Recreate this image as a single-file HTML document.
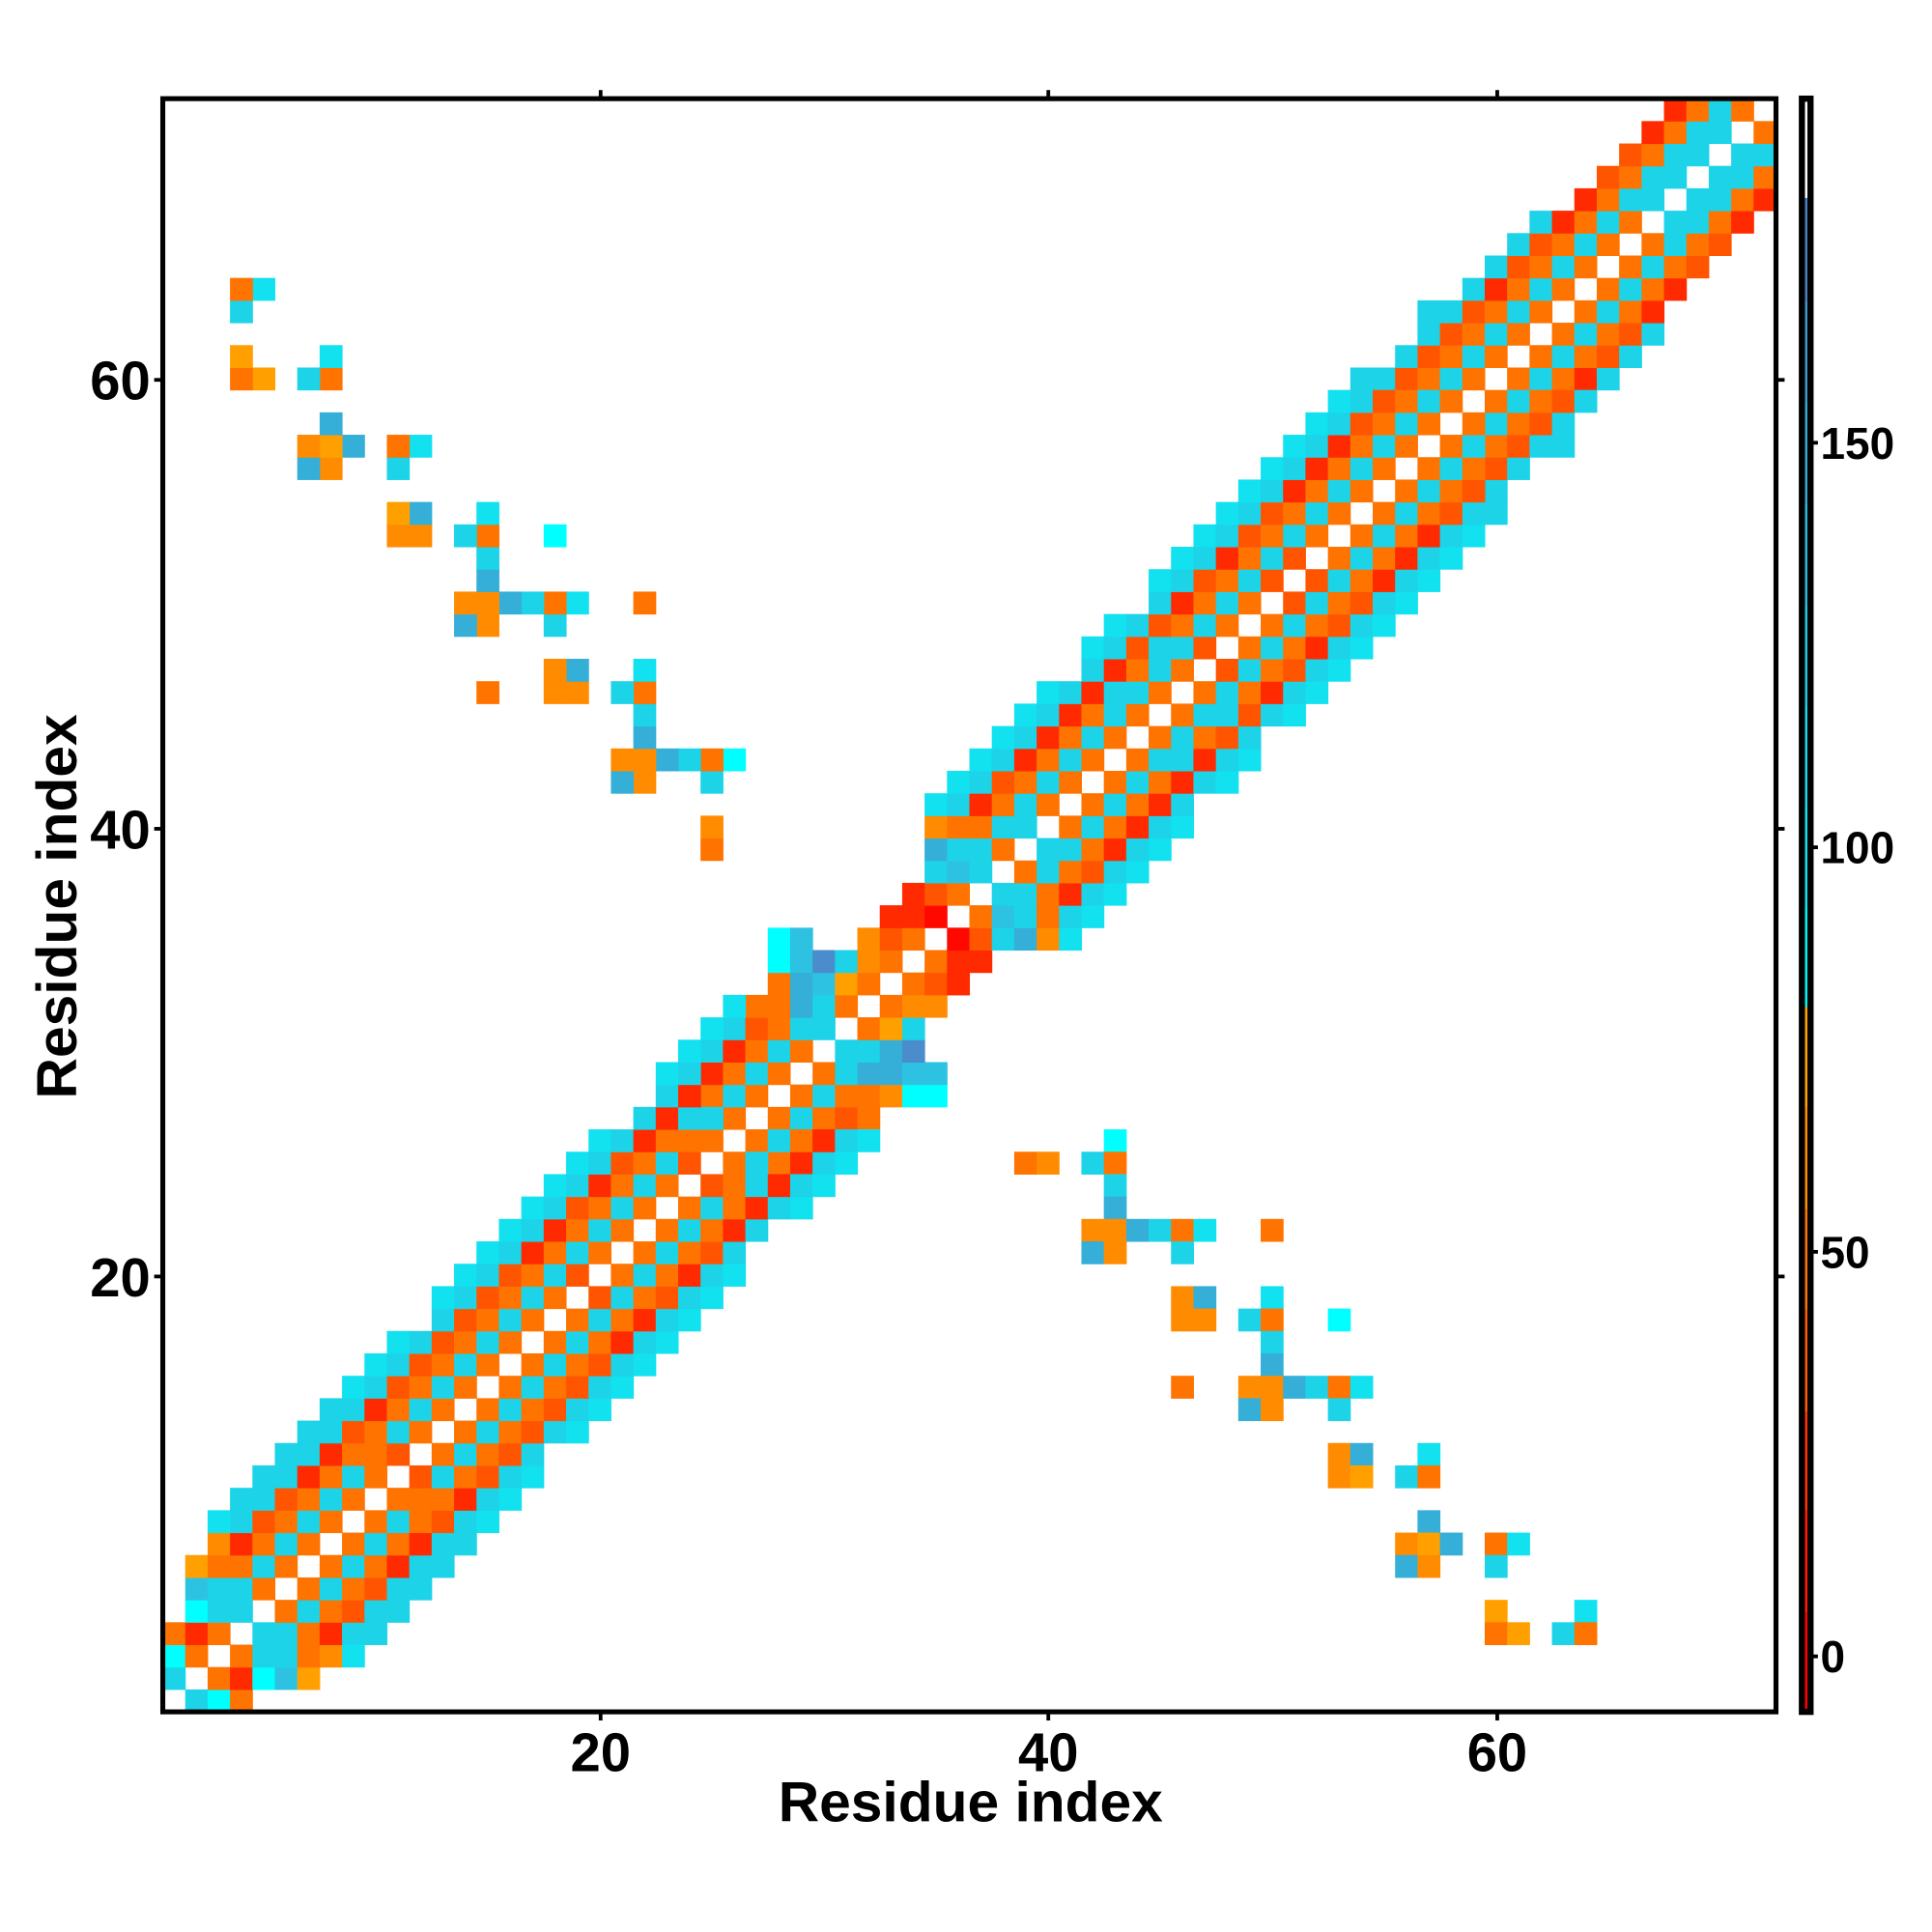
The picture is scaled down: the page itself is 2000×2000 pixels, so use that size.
<!DOCTYPE html>
<html><head><meta charset="utf-8"><style>
html,body{margin:0;padding:0;background:#fff;}
svg{display:block;}
text{font-family:"Liberation Sans",Arial,sans-serif;font-weight:bold;fill:#000;}
</style></head><body>
<svg id="s" width="2000" height="2000" viewBox="0 0 1566.5 1566.5" xmlns="http://www.w3.org/2000/svg">
<g id="cells"></g>
<rect x="132" y="80" width="1308" height="1308" fill="none" stroke="#000" stroke-width="4"/>
<g stroke="#000" stroke-width="3">
<line x1="487" y1="1388" x2="487" y2="1395"/><line x1="850" y1="1388" x2="850" y2="1395"/><line x1="1214" y1="1388" x2="1214" y2="1395"/>
<line x1="487" y1="73" x2="487" y2="80"/><line x1="850" y1="73" x2="850" y2="80"/><line x1="1214" y1="73" x2="1214" y2="80"/>
<line x1="125" y1="308" x2="132" y2="308"/><line x1="125" y1="672" x2="132" y2="672"/><line x1="125" y1="1035" x2="132" y2="1035"/>
<line x1="1440" y1="308" x2="1447" y2="308"/><line x1="1440" y1="672" x2="1447" y2="672"/><line x1="1440" y1="1035" x2="1447" y2="1035"/>
</g>
<g font-size="44" text-anchor="middle">
<text x="487" y="1436">20</text><text x="850" y="1436">40</text><text x="1214" y="1436">60</text>
</g>
<g font-size="44" text-anchor="end">
<text x="122" y="324">60</text><text x="122" y="688">40</text><text x="122" y="1051">20</text>
</g>
<text x="787" y="1477" font-size="46" text-anchor="middle">Residue index</text>
<text transform="translate(62,735) rotate(-90)" font-size="46" text-anchor="middle">Residue index</text>
<g id="cbar"></g>
<rect x="1461" y="80" width="7" height="1308" fill="none" stroke="#000" stroke-width="5"/>
<g stroke="#000" stroke-width="3">
<line x1="1468" y1="1343" x2="1474" y2="1343"/><line x1="1468" y1="1015" x2="1474" y2="1015"/><line x1="1468" y1="687" x2="1474" y2="687"/><line x1="1468" y1="359" x2="1474" y2="359"/>
</g>
<g font-size="36">
<text x="1476" y="1356">0</text><text x="1476" y="1028">50</text><text x="1476" y="700">100</text><text x="1476" y="372">150</text>
</g>
</svg>
<script>
var O="#ff7300",R4="#ff5500",R="#ff2a00",RR="#ff0800",Y="#ff8c00",Ya="#ffa000",C="#1dd3e8",C2="#12e1f0",CB="#00ffff",B1="#35aed8",B1b="#2ec2e2",B2="#4a8ccc",W="W";
var M={};
function set(r,c,col,force){var k=r+","+c;if(force||!(k in M))M[k]=col;}
function h(a,b){var x=(a*73856093)^(b*19349663);x=(x^(x>>>13))*1274126177;x=x^(x>>>16);return ((x>>>0)%1000)/1000;}
function seqRow(r,start,arr){var o={};for(var i=0;i<arr.length;i++){if(arr[i]!==W)o[start+i]=arr[i];}E[r]=o;}
var E={
40:{35:Y,36:O,37:O,38:C,39:C},
39:{35:B1,36:C,37:C,38:O},
38:{35:C,36:B1b,37:C,39:O},
37:{34:R,35:R4,36:O,38:C,39:C},
36:{33:R,34:R,35:RR,37:O,38:B1b},
35:{28:CB,29:B1b,32:Y,33:R4,34:O,36:RR,37:R4,38:C,39:B1},
34:{28:CB,29:B1b,30:B2,31:C,32:Y,33:O,35:O,36:R,37:R},
33:{28:O,29:B1,30:B1b,31:Ya,32:O,34:O,35:R4,36:R},
32:{27:O,28:O,29:B1,30:C,31:O,33:O,34:Y,35:Y},
31:{26:C,27:R4,28:O,29:C,30:C,32:O,33:Ya,34:C},
30:{25:C,26:R,27:O,28:C,29:O,31:C,32:C,33:B1,34:B2},
29:{25:R,26:O,27:C,28:O,30:O,31:C,32:B1,33:B1,34:B1b,35:B1b},
28:{25:O,26:C,27:O,29:O,30:C,31:O,32:O,33:Y,34:CB,35:CB},
27:{26:O,28:O,29:C,30:O,31:R4,32:O}
};
seqRow(72,68,[R,O,C,O,W]);
seqRow(71,67,[R,O,C,C,W,O]);
seqRow(70,66,[R4,O,C,C,W,C,C]);
seqRow(69,65,[R4,O,C,C,W,C,C,O]);
seqRow(68,64,[R,O,C,C,W,C,C,O,R]);
seqRow(67,62,[C,R,O,C,O,W,C,C,O,R]);
seqRow(66,61,[C,R4,O,C,O,W,O,C,O,R4]);
seqRow(65,60,[C,R4,O,C,O,W,O,C,O,R4]);
seqRow(64,59,[C,R,O,C,O,W,O,C,O,R]);
seqRow(63,57,[C,C,R4,O,C,O,W,O,C,O,R]);
seqRow(62,57,[C,R4,O,C,O,W,O,C,O,R4,C]);
seqRow(61,56,[C,R4,O,C,O,W,O,C,O,R4,C]);
seqRow(60,54,[C,C,R4,O,C,O,W,O,C,O,R,C]);
seqRow(1,1,[W,C,CB,O]);
seqRow(2,1,[C,W,O,R,CB,B1b,Ya]);
seqRow(3,1,[CB,O,W,O,C,C,O,Y]);
seqRow(4,1,[O,R,O,W,C,C,O,R,C,C]);
seqRow(5,2,[CB,C,C,W,O,C,O,R4,C,C]);
seqRow(6,2,[B1b,C,C,O,W,O,C,O,R4,C,C]);
seqRow(7,2,[Ya,O,O,C,O,W,O,C,O,R,C,C]);
seqRow(8,3,[Y,R,O,C,O,W,O,C,O,R,C,C]);
for(var r in E)for(var c in E[r]){set(+r,+c,E[r][c],true);}
for(var r in E)for(var c in E[r]){set(+c,+r,E[r][c],false);}
function inMid(v){return v>=27&&v<=40;}
for(var i=1;i<=72;i++)for(var j=1;j<=72;j++){
  var d=Math.abs(i-j); if(d==0||d>6)continue;
  var a=Math.min(i,j),b=Math.max(i,j);
  if(inMid(a)&&inMid(b))continue;
  if(b>=60&&a>=54)continue;
  if(b<=8)continue;
  var u=h(a,b),col;
  if(d==1)col=u<0.9?O:R4;
  else if(d==2)col=u<0.9?C:O;
  else if(d==3)col=u<0.88?O:C;
  else if(d==4)col=u<0.55?R4:R;
  else if(d==5)col=C;
  else {if(u<0.2)continue;col=C2;}
  set(i,j,col,false);
}
var L=[[26,43,CB],[25,39,O],[25,40,Y],[25,42,C],[25,43,O],[24,43,C],[23,43,B1],
[22,42,Y],[22,43,Y],[22,44,B1],[22,45,C],[22,46,O],[22,47,C2],[22,50,O],[21,42,B1],[21,43,Y],[21,46,C],
[19,46,Y],[19,47,B1],[19,50,C2],[18,46,Y],[18,47,Y],[18,49,C],[18,50,O],[18,53,CB],
[17,50,C],[16,50,B1],[15,46,O],[15,49,Y],[15,50,Y],[15,51,B1],[15,52,C],[15,53,O],[15,54,C2],
[14,49,B1],[14,50,Y],[14,53,C],[12,53,Y],[12,54,B1],[12,57,C2],[11,53,Y],[11,54,Ya],[11,56,C],[11,57,O],
[9,57,B1],[8,56,Y],[8,57,Ya],[8,58,B1],[8,60,O],[8,61,C2],[7,56,B1],[7,57,Y],[7,60,C],
[5,60,Ya],[5,64,C2],[4,60,O],[4,61,Ya],[4,63,C],[4,64,O]];
L.forEach(function(e){set(e[0],e[1],e[2],true);set(e[1],e[0],e[2],true);});
var g=document.getElementById("cells"),cw=1308/72,html="";
for(var k in M){var p=k.split(","),r=+p[0],c=+p[1];
 var x=132+(c-1)*cw,y=80+(72-r)*cw;
 html+='<rect x="'+x.toFixed(2)+'" y="'+y.toFixed(2)+'" width="'+(cw+0.4).toFixed(2)+'" height="'+(cw+0.4).toFixed(2)+'" fill="'+M[k]+'"/>';}
g.innerHTML=html;
var segs=[[1307,1388,"#ff0000"],[1224,1307,"#ff1a00"],[1144,1224,"#ff3300"],[1061,1144,"#ff5a00"],[980,1061,"#ff7300"],[897,980,"#ff8c00"],[816,897,"#ffa000"],
[736,816,"#00f2f2"],[654,736,"#14e2ee"],[572,654,"#1ed4e8"],[490,572,"#26c6e2"],[408,490,"#2eb6dc"],[326,408,"#38a6d4"],[244,326,"#3f96cc"],[160,244,"#4a80c0"],[80,160,"#ffffff"]];
var cb="";segs.forEach(function(s){cb+='<rect x="1461" y="'+s[0]+'" width="7" height="'+(s[1]-s[0]+0.5)+'" fill="'+s[2]+'"/>';});
document.getElementById("cbar").innerHTML=cb;
</script>
</body></html>
